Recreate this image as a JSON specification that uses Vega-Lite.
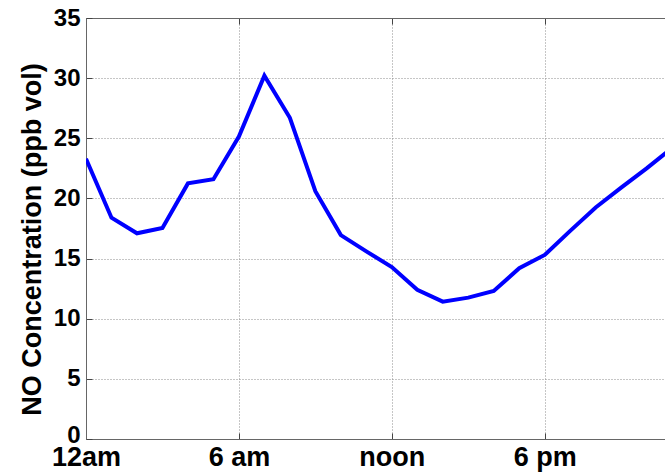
{
  "$schema": "https://vega.github.io/schema/vega-lite/v6.json",
  "autosize": "none",
  "width": 580,
  "height": 421,
  "padding": {"left": 86, "top": 18, "right": 0, "bottom": 36},
  "background": "white",
  "config": {
    "view": {"stroke": null},
    "axis": {
      "labelFont": "Liberation Sans",
      "labelFontWeight": "bold",
      "labelColor": "black",
      "titleFont": "Liberation Sans",
      "titleFontWeight": "bold",
      "titleColor": "black",
      "domainColor": "#666666",
      "tickColor": "#444444",
      "gridColor": "#8c8c8c",
      "gridDash": [1, 2],
      "gridOpacity": 1,
      "gridWidth": 1
    }
  },
  "data": {
    "values": [
      {"hour": 0, "no": 23.3},
      {"hour": 1, "no": 18.4},
      {"hour": 2, "no": 17.1},
      {"hour": 3, "no": 17.55},
      {"hour": 4, "no": 21.25},
      {"hour": 5, "no": 21.6},
      {"hour": 6, "no": 25.15},
      {"hour": 7, "no": 30.2},
      {"hour": 8, "no": 26.7},
      {"hour": 9, "no": 20.6},
      {"hour": 10, "no": 16.95},
      {"hour": 11, "no": 15.6},
      {"hour": 12, "no": 14.3},
      {"hour": 13, "no": 12.4},
      {"hour": 14, "no": 11.42},
      {"hour": 15, "no": 11.75},
      {"hour": 16, "no": 12.3},
      {"hour": 17, "no": 14.2},
      {"hour": 18, "no": 15.3},
      {"hour": 19, "no": 17.3},
      {"hour": 20, "no": 19.25},
      {"hour": 21, "no": 20.9},
      {"hour": 22, "no": 22.5},
      {"hour": 23, "no": 24.2}
    ]
  },
  "layer": [
    {
      "mark": {"type": "line", "color": "#0000FF", "strokeWidth": 4, "clip": true},
      "encoding": {
        "x": {
          "field": "hour",
          "type": "quantitative",
          "scale": {"domain": [0, 22.76], "nice": false, "zero": false},
          "axis": {
            "orient": "bottom",
            "title": null,
            "values": [0, 6, 12, 18],
            "labelExpr": "datum.value == 0 ? '12am' : datum.value == 6 ? '6 am' : datum.value == 12 ? 'noon' : '6 pm'",
            "labelFontSize": 27,
            "labelPadding": 11,
            "labelAlign": "center",
            "labelBaseline": "top",
            "tickSize": -6,
            "grid": true,
            "domain": true,
            "labelFlush": false,
            "labelOverlap": false
          }
        },
        "y": {
          "field": "no",
          "type": "quantitative",
          "scale": {"domain": [0, 35], "nice": false, "zero": true},
          "axis": {
            "title": "NO Concentration (ppb vol)",
            "titleFontSize": 27,
            "titlePadding": 7,
            "titleY": 221,
            "values": [0, 5, 10, 15, 20, 25, 30, 35],
            "labelFontSize": 24,
            "labelPadding": 12,
            "labelBaseline": "middle",
            "labelOffset": {"condition": {"test": "datum.value == 0", "value": -4}, "value": 0},
            "tickSize": -6,
            "grid": true,
            "domain": true,
            "labelFlush": false,
            "labelOverlap": false
          }
        }
      }
    },
    {
      "mark": {"type": "line", "strokeOpacity": 0, "clip": true},
      "encoding": {
        "x": {
          "field": "hour",
          "type": "quantitative",
          "scale": {"domain": [0, 22.76], "nice": false, "zero": false},
          "axis": {
            "orient": "top",
            "title": null,
            "values": [0, 6, 12, 18],
            "labels": false,
            "tickSize": -6,
            "grid": false,
            "domain": true
          }
        },
        "y": {
          "field": "no",
          "type": "quantitative",
          "scale": {"domain": [0, 35], "nice": false, "zero": true}
        }
      }
    }
  ],
  "resolve": {"axis": {"x": "independent"}}
}
